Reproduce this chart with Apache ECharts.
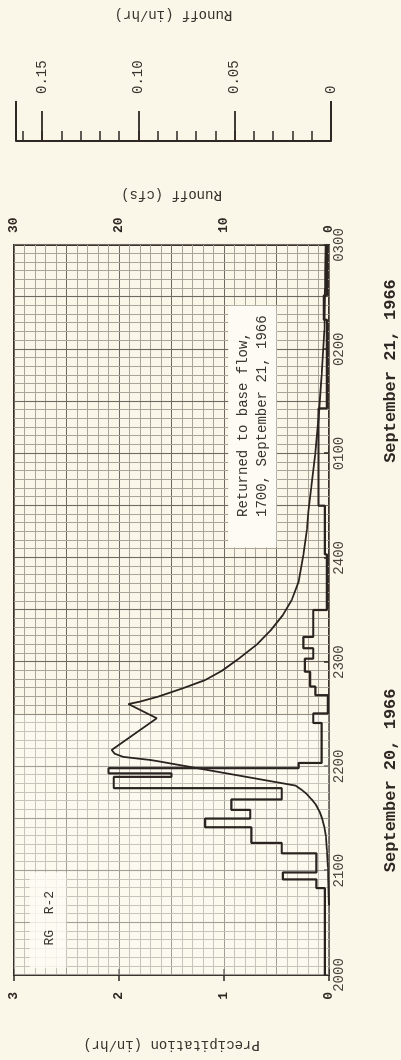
<!DOCTYPE html>
<html><head><meta charset="utf-8">
<script src="https://cdn.jsdelivr.net/npm/echarts@6/dist/echarts.min.js"></script>
<style>
html,body{margin:0;padding:0;background:#fbf7e8;width:401px;height:1060px;overflow:hidden}
#chart{position:absolute;left:0;top:1060px;width:1060px;height:401px;transform-origin:0 0;transform:rotate(-90deg)}
</style></head><body><div id="chart"></div>
<script>
// Time is in minutes after 2000 hours, September 20, 1966
const timeLabels = ['2000','2100','2200','2300','2400','0100','0200','0300'];
const precipLabels = ['0','1','2','3'];
const runoffCfsLabels = ['0','10','20','30'];
const rulerTickValues = [0, 0.05, 0.10, 0.15];
const rulerLabels = ['0','0.05','0.10','0.15'];
const rulerMax = 0.1635; // in/hr equivalent of 30 cfs

// Precipitation (in/hr): rate holds from precipBreaks[i] to precipBreaks[i+1]
const precipBreaks = [0,50,55,59,70,76,85,90,95,101,107.5,114,116,119,122,145,150.5,161,166,174.5,182,188,194.5,210,242,270,326,377,391,420];
const precipRates  = [0.04,0.12,0.44,0.12,0.45,0.74,1.18,0.75,0.93,0.45,2.05,1.50,2.10,0.29,0.07,0.15,0.01,0.13,0.18,0.23,0.15,0.245,0.15,0.02,0.04,0.10,0.02,0.05,0.02];

// Runoff hydrograph (cfs)
const runoffTimes = [40,62,72,80,85,90,94,98,101,104,106.5,109,123,123.7,125.5,127.3,129.5,147.7,155.9,157.3,160.1,165,169.7,175,182,190,198,207,215.8,226.3,241.7,256,266.6,280,299.2,320,345,371,395,420];
const runoffCfs   = [0,0.1,0.2,0.3,0.45,0.65,0.9,1.25,1.65,2.1,2.6,3.2,16.3,17.0,19.6,20.4,20.7,16.4,19.1,18.0,16.3,13.9,11.8,10.2,8.6,6.9,5.6,4.4,3.55,2.9,2.45,2.1,1.97,1.7,1.33,1.0,0.7,0.45,0.38,0.32];

// Annotations
const dayLabels = ['September 20, 1966', 'September 21, 1966'];
const dayLabelTimes = [112, 347.5];
const noteLines = ['Returned to base flow,', '1700, September 21, 1966'];
const gaugeLabel = 'RG  R-2';

const FONT = "'Liberation Mono', 'Courier New', monospace";
const INK = '#2e2724';
const MINOR = '#aaa49a';
const MAJOR = '#6f6962';

const precipData = [];
for (let i = 0; i < precipRates.length; i++) {
  precipData.push([precipBreaks[i], precipRates[i]]);
  precipData.push([precipBreaks[i + 1], precipRates[i]]);
}
const runoffData = runoffTimes.map((t, i) => [t, runoffCfs[i]]);

const chart = echarts.init(document.getElementById('chart'));
const rulerGrid = {left: 919, right: 140, top: 16, bottom: 70};
const option = {
  animation: false,
  backgroundColor: '#fbf7e8',
  grid: [
    {left: 85, right: 245, top: 14, bottom: 72, show: true, borderColor: '#3a312d', borderWidth: 2, backgroundColor: 'transparent'},
    Object.assign({}, rulerGrid),
    Object.assign({}, rulerGrid)
  ],
  xAxis: [
    {type: 'value', gridIndex: 0, min: 0, max: 420, interval: 60, position: 'bottom',
      axisLine: {show: false}, splitLine: {show: false},
      axisTick: {show: true, inside: true, length: 5, lineStyle: {color: INK, width: 1.5}},
      axisLabel: {margin: 3, fontFamily: FONT, fontSize: 14, color: '#4a433e',
        formatter: v => timeLabels[Math.round(v / 60)] || ''}},
    {type: 'value', gridIndex: 0, min: 0, max: 420, interval: 30, position: 'top',
      axisLine: {show: false}, axisTick: {show: false}, axisLabel: {show: false},
      splitLine: {show: true, lineStyle: {color: MAJOR, width: 1.1}},
      minorTick: {show: false, splitNumber: 6},
      minorSplitLine: {show: true, lineStyle: {color: MINOR, width: 1}}},
    {type: 'value', gridIndex: 1, min: 0, max: 1, show: false},
    {type: 'value', gridIndex: 2, min: 0, max: 1, show: false}
  ],
  yAxis: [
    {type: 'value', gridIndex: 0, min: 0, max: 3, interval: 1, position: 'left',
      axisLine: {show: false}, splitLine: {show: false},
      axisTick: {show: true, inside: true, length: 6, lineStyle: {color: INK, width: 1.5}},
      axisLabel: {margin: 17, fontFamily: FONT, fontSize: 13, fontWeight: 'bold', color: INK,
        formatter: v => precipLabels[Math.round(v)]},
      name: 'Precipitation (in/hr)', nameLocation: 'middle', nameRotate: 90, nameGap: 63,
      nameTextStyle: {fontFamily: FONT, fontSize: 14, color: '#3a332f'}},
    {type: 'value', gridIndex: 0, min: 0, max: 30, interval: 10, position: 'right',
      axisLine: {show: false}, splitLine: {show: false},
      axisTick: {show: true, inside: true, length: 6, lineStyle: {color: INK, width: 1.5}},
      axisLabel: {margin: 12, fontFamily: FONT, fontSize: 13, fontWeight: 'bold', color: INK,
        formatter: v => runoffCfsLabels[Math.round(v / 10)]},
      name: 'Runoff (cfs)', nameLocation: 'middle', nameRotate: 90, nameGap: 43,
      nameTextStyle: {fontFamily: FONT, fontSize: 14, color: '#3a332f'}},
    {type: 'value', gridIndex: 0, min: 0, max: 3, interval: 0.5, position: 'left',
      axisLine: {show: false}, axisTick: {show: false}, axisLabel: {show: false},
      splitLine: {show: true, lineStyle: {color: MAJOR, width: 1.1}},
      minorTick: {show: false, splitNumber: 5},
      minorSplitLine: {show: true, lineStyle: {color: MINOR, width: 1}}},
    // Runoff (in/hr) ruler: small ticks every 0.01
    {type: 'value', gridIndex: 1, min: 0, max: rulerMax, interval: 0.01, position: 'left',
      axisLine: {show: true, lineStyle: {color: INK, width: 2}},
      axisTick: {show: true, inside: true, length: 10, lineStyle: {color: INK, width: 1.5}},
      axisLabel: {show: false}, splitLine: {show: false}},
    // labelled ticks every 0.05
    {type: 'value', gridIndex: 1, min: 0, max: rulerMax, interval: 0.05, position: 'right',
      axisLine: {show: false},
      axisTick: {show: true, length: 29, lineStyle: {color: INK, width: 1.8}},
      axisLabel: {margin: 46, fontFamily: FONT, fontSize: 14, color: '#3a332f',
        formatter: v => { const i = rulerTickValues.findIndex(t => Math.abs(t - v) < 1e-6); return i >= 0 ? rulerLabels[i] : ''; }},
      splitLine: {show: false},
      name: 'Runoff (in/hr)', nameLocation: 'middle', nameRotate: 90, nameGap: 118,
      nameTextStyle: {fontFamily: FONT, fontSize: 14, color: '#3a332f'}},
    // ruler ends
    {type: 'value', gridIndex: 2, min: 0, max: rulerMax, interval: rulerMax, position: 'right',
      axisLine: {show: false},
      axisTick: {show: true, length: 40, lineStyle: {color: INK, width: 2}},
      axisLabel: {show: false}, splitLine: {show: false}}
  ],
  series: [
    {type: 'line', name: 'Precipitation', xAxisIndex: 0, yAxisIndex: 0, data: precipData,
      showSymbol: false, symbol: 'none', z: 3,
      lineStyle: {color: '#2a2320', width: 2.2}},
    {type: 'line', name: 'Runoff', xAxisIndex: 0, yAxisIndex: 1, data: runoffData,
      showSymbol: false, symbol: 'none', z: 4,
      lineStyle: {color: '#2a2320', width: 1.8}}
  ]
};
chart.setOption(option);

const px = (t, p) => chart.convertToPixel({xAxisIndex: 0, yAxisIndex: 0}, [t, p]);
const noteA = px(246, 0.96), noteB = px(385, 0.50);
const rgA = px(4, 2.85), rgB = px(59, 2.50);
const noteL1 = px(263.5, 0.82), noteL2 = px(263.5, 0.64);
const rgT = px(17, 2.66);
const fadeA = px(0, 3), fadeB = px(150, 0);
const graphics = [
  {type: 'rect', z: 1, shape: {x: fadeA[0], y: fadeA[1], width: fadeB[0] - fadeA[0], height: fadeB[1] - fadeA[1]},
    style: {fill: 'rgba(255,255,252,0.35)'}},
  {type: 'rect', z: 1, shape: {x: noteA[0], y: noteA[1], width: noteB[0] - noteA[0], height: noteB[1] - noteA[1]},
    style: {fill: '#fdfbf3'}},
  {type: 'rect', z: 1, shape: {x: rgA[0], y: rgA[1], width: rgB[0] - rgA[0], height: rgB[1] - rgA[1]},
    style: {fill: 'rgba(253,251,243,0.8)'}},
  {type: 'text', z: 5, x: noteL1[0], y: noteL1[1], style: {text: noteLines[0], font: '14px ' + FONT, fill: '#3a332f', textAlign: 'left', textVerticalAlign: 'middle'}},
  {type: 'text', z: 5, x: noteL2[0], y: noteL2[1], style: {text: noteLines[1], font: '14px ' + FONT, fill: '#3a332f', textAlign: 'left', textVerticalAlign: 'middle'}},
  {type: 'text', z: 5, x: rgT[0], y: rgT[1], style: {text: gaugeLabel, font: '13px ' + FONT, fill: '#3a332f', textAlign: 'left', textVerticalAlign: 'middle'}}
];
dayLabels.forEach((s, i) => {
  const p = chart.convertToPixel({xAxisIndex: 0}, dayLabelTimes[i]);
  graphics.push({type: 'text', z: 5, x: p, y: 391, style: {text: s, font: 'bold 17px ' + FONT, fill: INK, textAlign: 'center', textVerticalAlign: 'middle'}});
});
chart.setOption({graphic: graphics});
</script></body></html>
